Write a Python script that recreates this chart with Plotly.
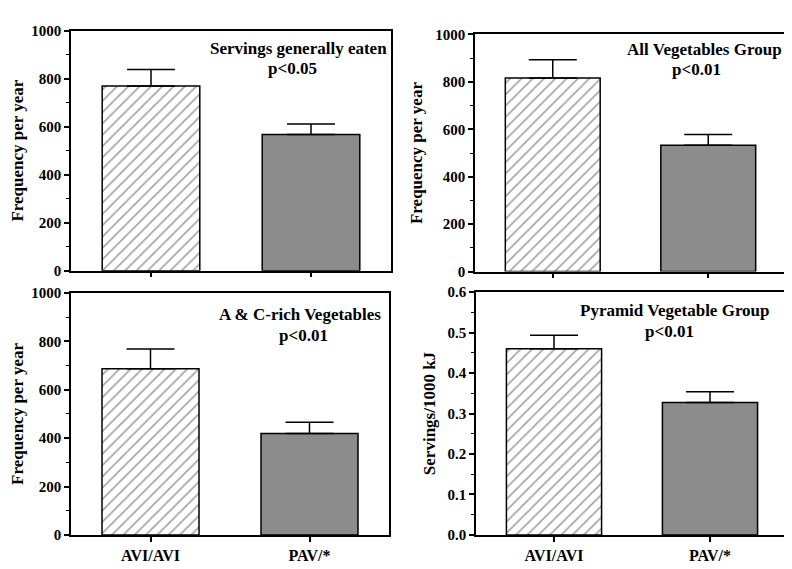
import plotly.graph_objects as go

groups = ["AVI/AVI", "PAV/*"]

titles = ["Servings generally eaten", "All Vegetables Group",
          "A & C-rich Vegetables", "Pyramid Vegetable Group"]
pvals = ["p<0.05", "p<0.01", "p<0.01", "p<0.01"]
ytitles = ["Frequency per year", "Frequency per year",
           "Frequency per year", "Servings/1000 kJ"]

serv_means = [769, 567]
serv_err = [69, 44]
allveg_means = [816, 533]
allveg_err = [77, 45]
acrich_means = [687, 419]
acrich_err = [82, 47]
pyramid_means = [0.460, 0.327]
pyramid_err = [0.033, 0.027]

freq_ticks = [0, 200, 400, 600, 800, 1000]
serv_ticks = [0.0, 0.1, 0.2, 0.3, 0.4, 0.5, 0.6]

means = [serv_means, allveg_means, acrich_means, pyramid_means]
errs = [serv_err, allveg_err, acrich_err, pyramid_err]
yticks = [freq_ticks, freq_ticks, freq_ticks, serv_ticks]
ytickfmt = ["{:d}", "{:d}", "{:d}", "{:.1f}"]
yranges = [[0, 1000], [0, 1000], [0, 1000], [0, 0.6]]
ydticks = [200, 200, 200, 0.1]

W, H = 792, 569
# pixel boxes: x0, x1, y0(top), y1(bottom)
boxes = [(63, 383, 15, 262), (467, 778, 19, 263),
         (63, 381, 285, 534), (468, 780, 284, 534)]
# annotation positions (pixels): title center, title y, p center, p y
ann_pos = [(290, 33, 284, 54), (696, 34, 688, 55),
           (292, 307, 295, 329), (667, 303, 661, 325)]

FONT = "Liberation Serif"
fig = go.Figure()
layout = dict(width=W, height=H, margin=dict(l=0, r=0, t=0, b=0),
              paper_bgcolor="white", plot_bgcolor="white", showlegend=False,
              font=dict(family=FONT, color="black"))
annotations = []
for i in range(4):
    xa = "x" if i == 0 else f"x{i+1}"
    ya = "y" if i == 0 else f"y{i+1}"
    fig.add_trace(go.Bar(
        x=[0, 1], y=means[i], width=0.61, xaxis=xa, yaxis=ya,
        marker=dict(color=["white", "#8c8c8c"],
                    line=dict(color="black", width=1.5),
                    pattern=dict(shape=["/", ""], fgcolor="#111111", bgcolor="white",
                                 size=8, solidity=0.2)),
        error_y=dict(type="data", array=errs[i], arrayminus=[0, 0], symmetric=False,
                     color="black", thickness=1.5, width=24),
    ))
    x0, x1, y0, y1 = boxes[i]
    bottom = i >= 2
    layout["xaxis" if i == 0 else f"xaxis{i+1}"] = dict(
        domain=[x0 / W, x1 / W], anchor=ya, range=[-0.5, 1.5],
        tickmode="array", tickvals=[0, 1],
        ticktext=[f"<b>{g}</b>" for g in groups] if bottom else ["", ""],
        ticks="outside", ticklen=5, tickwidth=1.5, tickcolor="black",
        showline=True, linecolor="black", linewidth=1.5, mirror=True,
        showgrid=False, zeroline=False,
        tickfont=dict(family=FONT, size=16, color="black"),
    )
    layout["yaxis" if i == 0 else f"yaxis{i+1}"] = dict(
        domain=[1 - y1 / H, 1 - y0 / H], anchor=xa, range=yranges[i],
        tickmode="array", tickvals=yticks[i],
        ticktext=[f"<b>{ytickfmt[i].format(v)}</b>" for v in yticks[i]],
        ticks="outside", ticklen=5, tickwidth=1.5, tickcolor="black",
        minor=dict(ticks="outside", ticklen=3, tickwidth=1, tickcolor="black",
                   tickmode="linear", tick0=0, dtick=ydticks[i] / 2),
        showline=True, linecolor="black", linewidth=1.5, mirror=True,
        showgrid=False, zeroline=False,
        tickfont=dict(family=FONT, size=15, color="black"),
        title=dict(text=f"<b>{ytitles[i]}</b>", standoff=8,
                   font=dict(family=FONT, size=17, color="black")),
    )
    tx, ty, px_, py = ann_pos[i]
    annotations.append(dict(x=tx / W, y=1 - ty / H, xref="paper", yref="paper",
                            text=f"<b>{titles[i]}</b>", showarrow=False,
                            xanchor="center", yanchor="middle",
                            font=dict(family=FONT, size=17, color="black")))
    annotations.append(dict(x=px_ / W, y=1 - py / H, xref="paper", yref="paper",
                            text=f"<b>{pvals[i]}</b>", showarrow=False,
                            xanchor="center", yanchor="middle",
                            font=dict(family=FONT, size=17, color="black")))
layout["annotations"] = annotations
fig.update_layout(**layout)
fig.write_html("out.html")
